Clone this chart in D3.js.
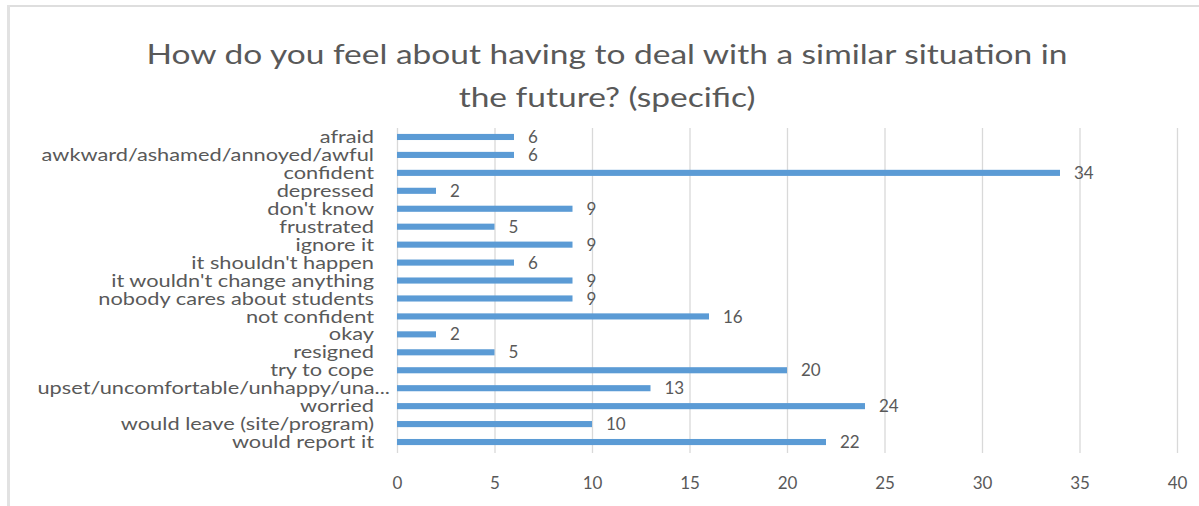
<!DOCTYPE html>
<html><head><meta charset="utf-8">
<script src="https://cdn.jsdelivr.net/npm/d3@7"></script>
<style>body{margin:0;background:#fff}svg{display:block}</style>
</head><body>
<svg id="c" width="1199" height="506"></svg>
<script>
const titleLines = ["How do you feel about having to deal with a similar situation in", "the future? (specific)"];
const categories = ["afraid","awkward/ashamed/annoyed/awful","confident","depressed","don't know","frustrated","ignore it","it shouldn't happen","it wouldn't change anything","nobody cares about students","not confident","okay","resigned","try to cope","upset/uncomfortable/unhappy/una...","worried","would leave (site/program)","would report it"];
const values = [6,6,34,2,9,5,9,6,9,9,16,2,5,20,13,24,10,22];
const xTicks = [0,5,10,15,20,25,30,35,40];

const svg = d3.select("#c");
const W = 1199, H = 506;
const m = {left:397, right:22, top:128, bottom:55};
const x = d3.scaleLinear().domain([0,40]).range([m.left, W - m.right]);
const y = d3.scaleBand().domain(categories).range([m.top, H - m.bottom]).paddingInner(0.66).paddingOuter(0.33);
const txt = "#595959";
const font = "Lato, 'Open Sans', sans-serif";

function stretch(sel, f){
  sel.each(function(){ const w=this.getComputedTextLength(); d3.select(this).attr("textLength", w*f).attr("lengthAdjust","spacingAndGlyphs"); });
}

// frame
svg.append("rect").attr("x",7).attr("y",5).attr("width",W).attr("height",2).attr("fill","#dedede");
svg.append("rect").attr("x",7).attr("y",5).attr("width",3).attr("height",H).attr("fill","#e2e2e2");

// title
svg.append("g").selectAll("text").data(titleLines).join("text")
  .attr("x",607).attr("y",(d,i)=>64+i*43)
  .attr("text-anchor","middle").attr("fill",txt)
  .style("font-family",font).style("font-size","27px")
  .text(d=>d)
  .call(stretch, 1.24);

// gridlines
const gridG = svg.append("g").attr("transform",`translate(0,${m.top})`)
  .call(d3.axisBottom(x).tickValues(xTicks).tickSize(H - m.bottom - m.top + 2).tickFormat(""));
gridG.select(".domain").remove();
gridG.selectAll("line").attr("stroke","#d9d9d9").attr("stroke-width",1.3);

// x axis labels
const xa = svg.append("g").attr("transform",`translate(0,${H - m.bottom})`)
  .call(d3.axisBottom(x).tickValues(xTicks).tickSize(0).tickPadding(26));
xa.select(".domain").remove();
xa.selectAll("text").attr("fill",txt).style("font-family",font).style("font-size","17px");

// category axis
const ya = svg.append("g").attr("transform",`translate(${m.left - 23},0)`)
  .call(d3.axisLeft(y).tickSize(0).tickPadding(0));
ya.select(".domain").remove();
ya.selectAll("text").attr("fill",txt).style("font-family",font).style("font-size","17px")
  .attr("dy","0.36em")
  .attr("x", d => d.endsWith("...") ? 16 : 0)
  .call(stretch, 1.28);

// bars
svg.append("g").selectAll("rect").data(values).join("rect")
  .attr("x", x(0)).attr("y",(d,i)=>y(categories[i]))
  .attr("width", d => x(d) - x(0)).attr("height", y.bandwidth())
  .attr("fill","#5b9bd5");

// value labels
svg.append("g").selectAll("text").data(values).join("text")
  .attr("x", d => x(d) + 14).attr("y",(d,i)=>y(categories[i]) + y.bandwidth()/2)
  .attr("dy","0.36em").attr("fill",txt)
  .style("font-family",font).style("font-size","17px")
  .text(d=>d);
</script>
</body></html>
